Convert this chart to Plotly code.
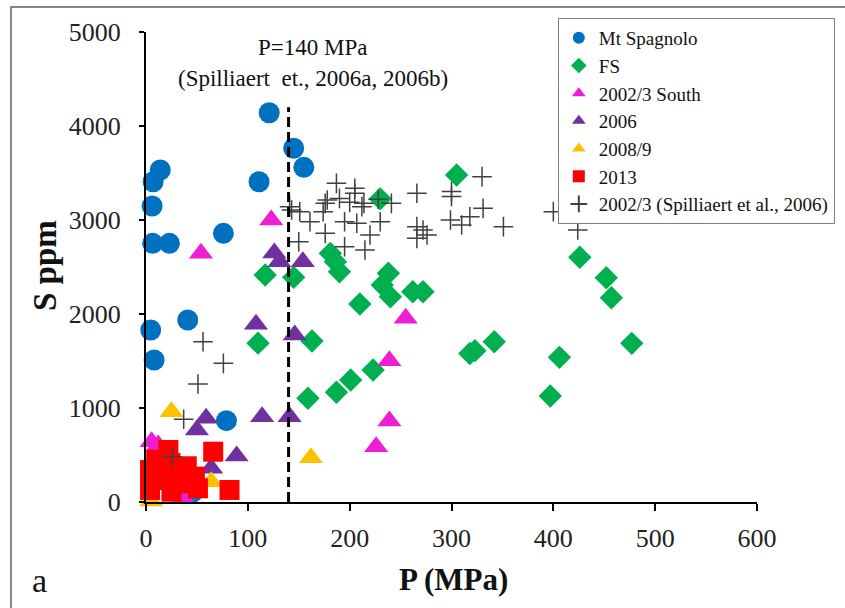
import plotly.graph_objects as go

# Melt-inclusion S content vs. entrapment pressure
spagnolo_p = [121, 145, 155, 111, 14, 7, 6, 6.5, 23, 76, 41, 4.6, 8, 79, 46]
spagnolo_s = [4141, 3763, 3560, 3407, 3532, 3407, 3149, 2752, 2752, 2858, 1936, 1830, 1511, 865, 105]

fs_p = [305, 230, 181, 186, 190, 117, 145, 238, 232, 240, 262, 272, 210, 110, 163,
        159, 187, 201, 223, 318, 323, 342, 406, 397, 477, 426, 452, 457]
fs_s = [3479, 3225, 2645, 2556, 2450, 2415, 2390, 2433, 2309, 2184, 2237, 2237, 2106, 1690, 1713,
        1103, 1167, 1298, 1404, 1580, 1610, 1705, 1539, 1128, 1688, 2603, 2386, 2173]

south_p = [54, 123, 255, 239, 239, 226, 12, 5.5, 36]
south_s = [2645, 3000, 1954, 1503, 862, 588, 606, 640, 50]

y2006_p = [126, 131, 154, 146, 141, 108, 114, 59, 50, 89, 64]
y2006_s = [2650, 2556, 2556, 1777, 907, 1890, 907, 890, 766, 490, 358]

y2008_p = [25, 162, 5, 64]
y2008_s = [960, 470, 10, 216]

y2013_p = [22, 66, 82, 4, 4, 24, 33, 25, 48, 51, 33, 15, 10, 40]
y2013_s = [553, 535, 128, 340, 128, 415, 340, 110, 270, 146, 200, 234, 450, 380]

spill_p = [187, 205, 205, 178, 190, 176, 200, 212, 214, 228, 241, 141, 151, 161, 143,
           174, 176, 195, 207, 220, 230, 150, 195, 215, 266, 266, 266, 276, 300, 300,
           299, 310, 318, 331, 330, 351, 400, 424, 272, 56, 76, 51, 37, 26]
spill_s = [3390, 3337, 3284, 3213, 3230, 3177, 3188, 3142, 3177, 3220, 3177, 3142, 3089, 2982, 3106,
           3089, 2858, 2982, 2965, 2840, 2982, 2769, 2716, 2681, 3284, 2929, 2805, 2840, 3302, 3250,
           3000, 2947, 3035, 3124, 3461, 2929, 3089, 2894, 2894, 1705, 1475, 1255, 880, 482]

x_ticks = [0, 100, 200, 300, 400, 500, 600]
y_ticks = [0, 1000, 2000, 3000, 4000, 5000]
p_threshold = 140

SERIF = "Liberation Serif, Times New Roman, serif"

fig = go.Figure()

def add(name, px, sy, symbol, color, size, line=None):
    marker = dict(symbol=symbol, color=color, size=size)
    if line:
        marker["line"] = line
    fig.add_trace(go.Scatter(x=px, y=sy, mode="markers", name=name,
                             marker=marker, cliponaxis=False))

add("Mt Spagnolo", spagnolo_p, spagnolo_s, "circle", "#0070C0", 21)
add("FS", fs_p, fs_s, "diamond", "#00B050", 18)
add("2002/3 South", south_p, south_s, "triangle-up", "#EE1ED2", 21)
add("2006", y2006_p, y2006_s, "triangle-up", "#7030A0", 21)
add("2008/9", y2008_p, y2008_s, "triangle-up", "#FFC000", 21)
add("2013", y2013_p, y2013_s, "square", "#FF0000", 20)
add("2002/3 (Spilliaert et al., 2006)", spill_p, spill_s, "cross-thin", "#404040", 14,
    line=dict(color="#404040", width=1.5))

axis_common = dict(showgrid=False, zeroline=False, showline=True, linecolor="black",
                   linewidth=2, ticks="outside", tickwidth=2, tickcolor="black",
                   tickfont=dict(family=SERIF, size=26, color="#222"))

fig.update_xaxes(range=[0, 600], tickvals=x_ticks, ticklen=7, ticklabelstandoff=5, **axis_common)
fig.update_yaxes(range=[0, 5000], tickvals=y_ticks, ticklen=5, ticklabelstandoff=13, **axis_common)

fig.add_shape(type="line", xref="x", yref="y", x0=p_threshold, x1=p_threshold, y0=0, y1=4200,
              line=dict(color="black", width=3, dash="10px,5px"), layer="above")

# outer frame
fig.add_shape(type="rect", xref="paper", yref="paper", x0=-0.221, x1=1.16, y0=-0.25, y1=1.053,
              line=dict(color="#858585", width=2), layer="below")

ann = [
    dict(text="P=140 MPa", x=0.2733, y=0.966, size=23),
    dict(text="(Spilliaert  et., 2006a, 2006b)", x=0.2733, y=0.902, size=23),
    dict(text="<b>P (MPa)</b>", x=0.5025, y=-0.164, size=31),
    dict(text="a", x=-0.1735, y=-0.166, size=34),
]
for a in ann:
    fig.add_annotation(text=a["text"], x=a["x"], y=a["y"], xref="paper", yref="paper",
                       showarrow=False, xanchor="center", yanchor="middle",
                       font=dict(family=SERIF, size=a["size"], color="#111"))
fig.add_annotation(text="<b>S ppm</b>", x=-0.1653, y=0.502, xref="paper", yref="paper",
                   showarrow=False, textangle=-90, xanchor="center", yanchor="middle",
                   font=dict(family=SERIF, size=33, color="#111"))

fig.update_layout(
    width=845, height=608,
    margin=dict(l=146, r=88, t=32, b=106, autoexpand=False),
    paper_bgcolor="white", plot_bgcolor="white",
    showlegend=True,
    legend=dict(x=0.674, y=1.03, xanchor="left", yanchor="top",
                bordercolor="#808080", borderwidth=1, bgcolor="white",
                itemsizing="constant", tracegroupgap=0,
                font=dict(family=SERIF, size=19, color="#111")),
)

fig.write_html("out.html")
